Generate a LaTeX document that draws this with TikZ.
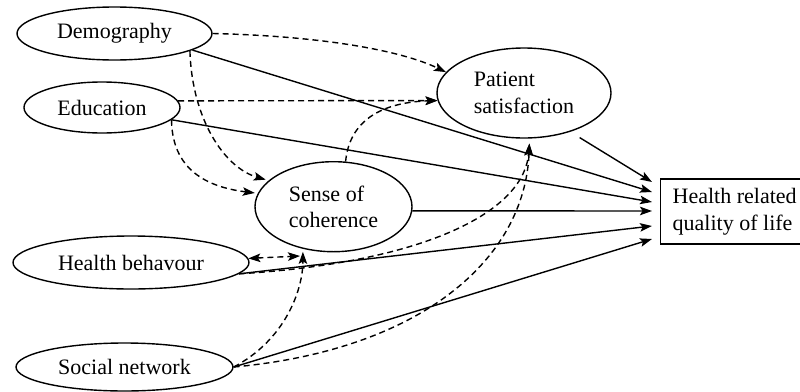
\documentclass[tikz,border=0pt]{standalone}
\usepackage{fontspec}
\setmainfont{Liberation Serif}
\usetikzlibrary{shapes.geometric,arrows.meta}
\begin{document}
\begin{tikzpicture}[x=1pt,y=-1pt,
  lbl/.style={font=\fontsize{22}{26.5}\selectfont},
  oval/.style={lbl,ellipse,draw,line width=1.4pt,inner sep=0pt},
  conn/.style={line width=1.4pt},
  tip/.tip={Stealth[length=12pt,width=8.5pt,inset=2.5pt]},
  arr/.style={conn,-tip},
  darr/.style={arr,dash pattern=on 6pt off 4pt},
  dboth/.style={conn,dash pattern=on 6pt off 4pt,tip-tip}
]
\useasboundingbox (0,0) rectangle (800,391);
\clip (0,0) rectangle (800,391);

% nodes
\node[oval,minimum width=195pt,minimum height=53pt] (demo) at (114.5,33.5) {Demography};
\node[oval,minimum width=156pt,minimum height=51pt] (edu) at (102,107.5) {Education};
\node[oval,minimum width=174pt,minimum height=90pt,align=left] (ps) at (524,93) {Patient\\satisfaction};
\node[oval,minimum width=157pt,minimum height=90pt,align=left] (soc) at (333.5,206.7) {Sense of\\coherence};
\node[oval,minimum width=236pt,minimum height=53pt] (hb) at (131,262.5) {Health behavour};
\node[oval,minimum width=217pt,minimum height=48pt] (sn) at (124.5,367) {Social network};
\node[lbl,draw,line width=1.4pt,anchor=west,align=left,inner xsep=12pt,minimum height=65pt] (hrql) at (660,211.5) {Health related\\quality of life};

% arrow end points in front of the outcome box
\coordinate (h1) at (652,182);
\coordinate (h2) at (652,192);
\coordinate (h3) at (652,202);
\coordinate (h4) at (652,211);
\coordinate (h5) at (652,226);
\coordinate (h6) at (652,239);
\coordinate (hbsoc) at (300,256);

% solid connectors
\draw[arr] (demo.-12) -- (h2);
\draw[arr] (edu.-10) -- (h3);
\draw[arr,shorten <=11pt] (ps.-40) -- (h1);
\draw[arr] (soc.-3) -- (h4);
\draw[arr] (hb.-6) -- (h5);
\draw[arr] (sn.east) -- (h6);

% dashed connectors
\draw[darr] (demo.east) .. controls (320,36) and (400,50) .. (ps.165);
\draw[darr] (edu.5) -- (ps.185);
\draw[darr] (soc.75) .. controls (350,115) and (390,102) .. (ps.185);
\draw[darr,shorten >=3pt] (demo.-13) .. controls (192,120) and (225,168) .. (soc.158);
\draw[darr,shorten >=3pt] (edu.-10) .. controls (172,175) and (215,188) .. (soc.170);
\draw[dboth] (hb.2) -- (hbsoc);
\draw[darr,shorten >=3pt] (sn.east) .. controls (285,340) and (303,290) .. (soc.-126);
\draw[darr,shorten >=5pt] (hb.-6) .. controls (430,262) and (525,210) .. (ps.-83);
\draw[darr,shorten >=5pt] (sn.east) .. controls (420,350) and (525,260) .. (ps.-83);
\end{tikzpicture}
\end{document}
